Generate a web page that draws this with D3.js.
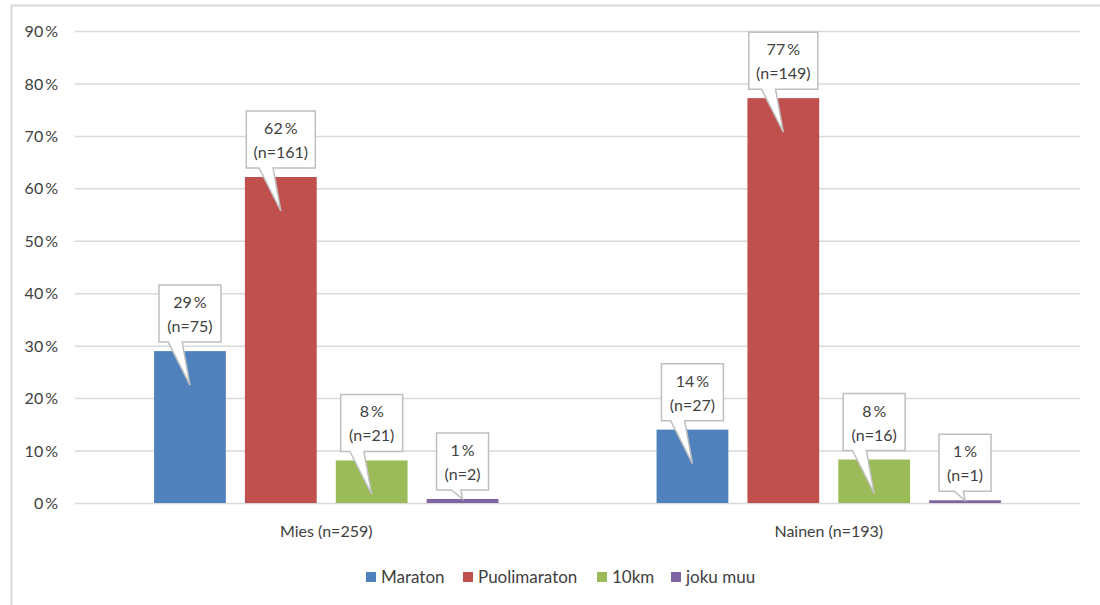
<!DOCTYPE html>
<html>
<head>
<meta charset="utf-8">
<script src="https://cdn.jsdelivr.net/npm/d3@7"></script>
<style>
  html, body { margin: 0; padding: 0; background: #fff; }
  svg { display: block; font-family: Lato, "Open Sans", sans-serif; }
</style>
</head>
<body>
<svg id="chart" width="1100" height="605"></svg>
<script>
// Groups (gender with respondent count) and the race distances
const groups = ["Mies (n=259)", "Nainen (n=193)"];
const series = ["Maraton", "Puolimaraton", "10km", "joku muu"];
const colors = ["#4F81BD", "#C0504D", "#9BBB59", "#8064A2"];

// Share of respondents (%) per group, in series order
const miesValues   = [28.96, 62.16, 8.11, 0.77];
const nainenValues = [13.99, 77.20, 8.29, 0.52];
// Respondent counts behind each share
const miesCounts   = [75, 161, 21, 2];
const nainenCounts = [27, 149, 16, 1];
// Rounded percentages shown in the labels
const miesLabels   = [29, 62, 8, 1];
const nainenLabels = [14, 77, 8, 1];

const yTicks = [0, 10, 20, 30, 40, 50, 60, 70, 80, 90];

const table = [
  { group: groups[0], values: miesValues, counts: miesCounts, labels: miesLabels },
  { group: groups[1], values: nainenValues, counts: nainenCounts, labels: nainenLabels }
];

const svg = d3.select("#chart");
const textColor = "#404040";
const gridColor = "#d9d9d9";
const fontSize = 16;

// outer chart frame (left and top edges)
svg.append("line").attr("x1", 11.5).attr("x2", 11.5).attr("y1", 5).attr("y2", 605)
  .attr("stroke", gridColor).attr("stroke-width", 2);
svg.append("line").attr("x1", 11).attr("x2", 1100).attr("y1", 5.5).attr("y2", 5.5)
  .attr("stroke", gridColor).attr("stroke-width", 2);

const plot = { left: 75, right: 1080, top: 31, bottom: 503 };

const y = d3.scaleLinear().domain([0, 90]).range([plot.bottom, plot.top]);
const x0 = d3.scaleBand().domain(groups).range([plot.left, plot.right]).padding(0);
const x1 = d3.scaleBand().domain(series).range([0, x0.bandwidth()])
  .paddingInner(0.21).paddingOuter(0.87);

// gridlines
svg.append("g").selectAll("line").data(yTicks).join("line")
  .attr("x1", plot.left).attr("x2", plot.right)
  .attr("y1", d => y(d) + 0.5).attr("y2", d => y(d) + 0.5)
  .attr("stroke", gridColor).attr("stroke-width", 1.5);

// y axis labels
const yAxis = d3.axisLeft(y).tickValues(yTicks).tickSize(0).tickPadding(0)
  .tickFormat(d => d + "\u2009%");
svg.append("g").attr("transform", `translate(${58},0)`).call(yAxis)
  .call(g => g.select(".domain").remove())
  .call(g => g.selectAll("text").attr("fill", textColor).attr("font-size", fontSize)
    .attr("font-family", "Lato, sans-serif").attr("dy", "0.35em"));

// x axis labels
svg.append("g").selectAll("text").data(groups).join("text")
  .attr("x", d => x0(d) + x0.bandwidth() / 2)
  .attr("y", 537)
  .attr("text-anchor", "middle")
  .attr("fill", textColor).attr("font-size", fontSize)
  .text(d => d);

// bars and callout labels
const gSel = svg.append("g").selectAll("g").data(table).join("g")
  .attr("transform", d => `translate(${x0(d.group)},0)`);

const items = gSel.selectAll("g.item")
  .data(d => series.map((s, i) => ({ s, i, v: d.values[i], n: d.counts[i], lab: d.labels[i] })))
  .join("g").attr("class", "item");

items.append("rect")
  .attr("x", d => x1(d.s))
  .attr("width", x1.bandwidth())
  .attr("y", d => y(d.v))
  .attr("height", d => y(0) - y(d.v))
  .attr("fill", d => colors[d.i]);

items.each(function (d) {
  const g = d3.select(this);
  const cx = x1(d.s) + x1.bandwidth() / 2;
  const top = y(d.v);
  const h = y(0) - top;
  const line2 = `(n=${d.n})`;
  const w = d.n >= 100 ? 69 : (d.n >= 10 ? 62 : 52);
  const bh = 57;
  const B = top - 9;
  const T = B - bh;
  const L = cx - w / 2, R = cx + w / 2;
  const tipX = cx;
  const tipY = top + Math.min(34, Math.max(0, h - 4));
  const dy = tipY - B;
  const baseR = tipX - 0.18 * dy;
  const baseL = baseR - Math.min(14, 8 + dy * 0.15);
  const path = d3.path();
  path.moveTo(L, T);
  path.lineTo(R, T);
  path.lineTo(R, B);
  path.lineTo(baseR, B);
  path.lineTo(tipX, tipY);
  path.lineTo(baseL, B);
  path.lineTo(L, B);
  path.closePath();
  g.append("path").attr("d", path.toString())
    .attr("fill", "#fff").attr("stroke", "#bfbfbf").attr("stroke-width", 1.5)
    .attr("stroke-linejoin", "miter");
  g.append("text").attr("x", cx).attr("y", T + 23)
    .attr("text-anchor", "middle").attr("fill", textColor).attr("font-size", fontSize)
    .text(d.lab + "\u2009%");
  g.append("text").attr("x", cx).attr("y", T + 47)
    .attr("text-anchor", "middle").attr("fill", textColor).attr("font-size", fontSize)
    .text(line2);
});

// legend
const legendX = [366, 463, 597, 671];
const legend = svg.append("g").selectAll("g").data(series).join("g")
  .attr("transform", (d, i) => `translate(${legendX[i]},${572})`);
legend.append("rect").attr("width", 10).attr("height", 10)
  .attr("fill", (d, i) => colors[i]);
legend.append("text").attr("x", 15).attr("y", 10.5)
  .attr("fill", textColor).attr("font-size", 17).text(d => d);
</script>
</body>
</html>
